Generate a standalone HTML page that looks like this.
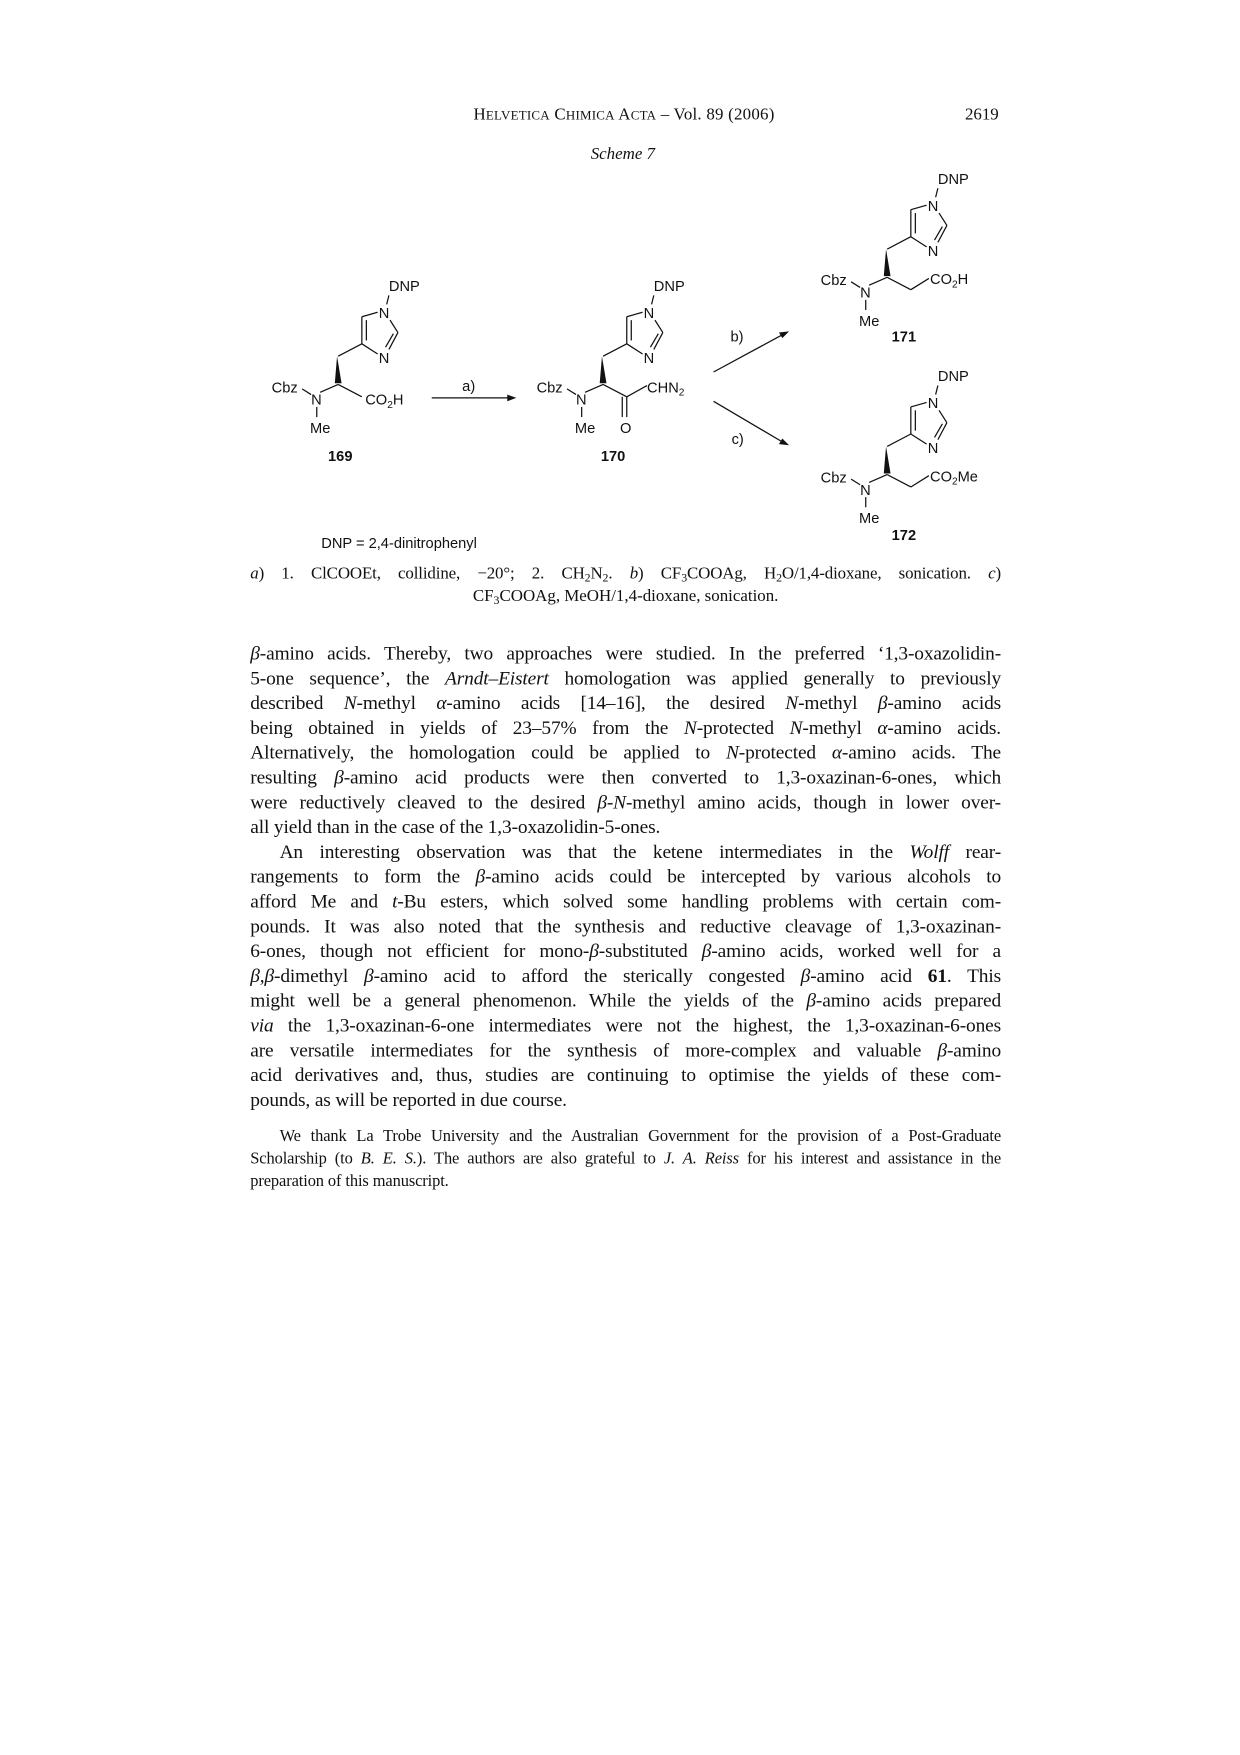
<!DOCTYPE html>
<html><head><meta charset="utf-8"><style>
html,body{margin:0;padding:0;background:#fff;}
body{width:1240px;height:1755px;overflow:hidden;position:relative;}
#pg{position:absolute;left:0;top:0;width:1100px;height:1557px;transform:scale(1.12727);transform-origin:0 0;font-family:"Liberation Serif",serif;color:#111;}
.ln{position:absolute;left:222px;width:666px;font-size:17.2px;white-space:nowrap;text-align:justify;text-align-last:justify;letter-spacing:-0.12px;line-height:20px;}
.last{text-align-last:left;}
.ack{position:absolute;left:222px;width:666px;font-size:14.6px;white-space:nowrap;text-align:justify;text-align-last:justify;line-height:18px;letter-spacing:-0.1px;}
svg text{font-family:"Liberation Sans",sans-serif;font-size:13px;fill:#111;}
sub{font-size:70%;vertical-align:-3px;line-height:0;}
</style></head><body>
<div id="pg">
<div style="position:absolute;left:420px;top:94px;font-size:15px;letter-spacing:0.2px;">H<span style="font-size:11.5px">ELVETICA</span> C<span style="font-size:11.5px">HIMICA</span> A<span style="font-size:11.5px">CTA</span> – Vol. 89 (2006)</div>
<div style="position:absolute;left:856px;top:94px;font-size:15px;">2619</div>
<div style="position:absolute;left:524px;top:129px;font-size:15px;font-style:italic;">Scheme 7</div>

<svg width="1100" height="500" style="position:absolute;left:0;top:0" stroke="#111" stroke-width="1.1" fill="none">
<defs>
<g id="core">
<polygon points="18,-38 16,-14 22,-14" fill="#111" stroke="none"/>
<line x1="19" y1="-38" x2="40" y2="-49"/>
<line x1="40" y1="-49" x2="40" y2="-73"/>
<line x1="44" y1="-70" x2="44" y2="-52"/>
<line x1="40" y1="-73" x2="54" y2="-77"/>
<line x1="65" y1="-70" x2="72" y2="-59"/>
<line x1="72" y1="-59" x2="64" y2="-44"/>
<line x1="68" y1="-58" x2="61" y2="-46"/>
<line x1="54" y1="-40" x2="40" y2="-49"/>
<line x1="62" y1="-84" x2="64" y2="-92"/>
<text x="55" y="-72" stroke="none">N</text>
<text x="55" y="-32" stroke="none">N</text>
<text x="64" y="-96" stroke="none">DNP</text>
<line x1="3" y1="-6" x2="19" y2="-13"/>
<line x1="-13" y1="-9" x2="-5" y2="-4"/>
<text x="-5" y="5" stroke="none">N</text>
<text x="-40" y="-6" stroke="none">Cbz</text>
<line x1="0" y1="7" x2="0" y2="16"/>
<text x="-6" y="30" stroke="none">Me</text>
</g>
</defs>
<g transform="translate(281,354)">
<use href="#core"/>
<line x1="19" y1="-13" x2="40" y2="-2"/>
<text x="43" y="5" stroke="none">CO<tspan font-size="9" dy="3">2</tspan><tspan dy="-3">H</tspan></text>
<text x="10" y="55" stroke="none" font-weight="bold" font-size="14">169</text>
</g>
<g>
<line x1="383" y1="353" x2="452" y2="353"/>
<polygon points="458,353 450,350 450,356" fill="#111" stroke="none"/>
<text x="410" y="347" stroke="none" font-size="14">a)</text>
</g>
<g transform="translate(516,354)">
<use href="#core"/>
<line x1="19" y1="-13" x2="40" y2="-2"/>
<line x1="40" y1="-2" x2="40" y2="16"/>
<line x1="36" y1="-2" x2="36" y2="16"/>
<text x="34" y="30" stroke="none">O</text>
<line x1="40" y1="-2" x2="58" y2="-12"/>
<text x="58" y="-6" stroke="none">CHN<tspan font-size="9" dy="3">2</tspan></text>
<text x="17" y="55" stroke="none" font-weight="bold" font-size="14">170</text>
</g>
<g>
<line x1="633" y1="330" x2="694" y2="297"/>
<polygon points="700,294 691,295 694,300" fill="#111" stroke="none"/>
<text x="648" y="303" stroke="none" font-size="14">b)</text>
</g>
<g>
<line x1="633" y1="356" x2="694" y2="392"/>
<polygon points="700,395 694,389 691,394" fill="#111" stroke="none"/>
<text x="649" y="394" stroke="none" font-size="14">c)</text>
</g>
<g transform="translate(768,259)">
<use href="#core"/>
<line x1="19" y1="-13" x2="40" y2="-2"/>
<line x1="40" y1="-2" x2="56" y2="-12"/>
<text x="57" y="-7" stroke="none">CO<tspan font-size="9" dy="3">2</tspan><tspan dy="-3">H</tspan></text>
<text x="23" y="44" stroke="none" font-weight="bold" font-size="14">171</text>
</g>
<g transform="translate(768,434)">
<use href="#core"/>
<line x1="19" y1="-13" x2="40" y2="-2"/>
<line x1="40" y1="-2" x2="56" y2="-12"/>
<text x="57" y="-7" stroke="none">CO<tspan font-size="9" dy="3">2</tspan><tspan dy="-3">Me</tspan></text>
<text x="23" y="45" stroke="none" font-weight="bold" font-size="14">172</text>
</g>
<text x="285" y="486" stroke="none" font-size="12.5">DNP = 2,4-dinitrophenyl</text>
</svg>

<div class="ln" style="top:499px;font-size:15px;"><i>a</i>) 1. ClCOOEt, collidine, −20°; 2. CH<sub>2</sub>N<sub>2</sub>. <i>b</i>) CF<sub>3</sub>COOAg, H<sub>2</sub>O/1,4-dioxane, sonication. <i>c</i>)</div>
<div style="position:absolute;left:222px;width:666px;top:519px;font-size:15px;text-align:center;line-height:20px;">CF<sub>3</sub>COOAg, MeOH/1,4-dioxane, sonication.</div>

<div>
<div class="ln" style="top:570px"><i>β</i>-amino acids. Thereby, two approaches were studied. In the preferred ‘1,3-oxazolidin-</div>
<div class="ln" style="top:592px">5-one sequence’, the <i>Arndt–Eistert</i> homologation was applied generally to previously</div>
<div class="ln" style="top:614px">described <i>N</i>-methyl <i>α</i>-amino acids [14–16], the desired <i>N</i>-methyl <i>β</i>-amino acids</div>
<div class="ln" style="top:636px">being obtained in yields of 23–57% from the <i>N</i>-protected <i>N</i>-methyl <i>α</i>-amino acids.</div>
<div class="ln" style="top:658px">Alternatively, the homologation could be applied to <i>N</i>-protected <i>α</i>-amino acids. The</div>
<div class="ln" style="top:680px">resulting <i>β</i>-amino acid products were then converted to 1,3-oxazinan-6-ones, which</div>
<div class="ln" style="top:702px">were reductively cleaved to the desired <i>β</i>-<i>N</i>-methyl amino acids, though in lower over-</div>
<div class="ln last" style="top:724px">all yield than in the case of the 1,3-oxazolidin-5-ones.</div>
<div class="ln" style="top:746px;left:248px;width:640px">An interesting observation was that the ketene intermediates in the <i>Wolff</i> rear-</div>
<div class="ln" style="top:768px">rangements to form the <i>β</i>-amino acids could be intercepted by various alcohols to</div>
<div class="ln" style="top:790px">afford Me and <i>t</i>-Bu esters, which solved some handling problems with certain com-</div>
<div class="ln" style="top:812px">pounds. It was also noted that the synthesis and reductive cleavage of 1,3-oxazinan-</div>
<div class="ln" style="top:834px">6-ones, though not efficient for mono-<i>β</i>-substituted <i>β</i>-amino acids, worked well for a</div>
<div class="ln" style="top:856px"><i>β</i>,<i>β</i>-dimethyl <i>β</i>-amino acid to afford the sterically congested <i>β</i>-amino acid <b>61</b>. This</div>
<div class="ln" style="top:878px">might well be a general phenomenon. While the yields of the <i>β</i>-amino acids prepared</div>
<div class="ln" style="top:900px"><i>via</i> the 1,3-oxazinan-6-one intermediates were not the highest, the 1,3-oxazinan-6-ones</div>
<div class="ln" style="top:922px">are versatile intermediates for the synthesis of more-complex and valuable <i>β</i>-amino</div>
<div class="ln" style="top:944px">acid derivatives and, thus, studies are continuing to optimise the yields of these com-</div>
<div class="ln last" style="top:966px">pounds, as will be reported in due course.</div>
</div>

<div>
<div class="ack" style="top:999px;left:248px;width:640px">We thank La Trobe University and the Australian Government for the provision of a Post-Graduate</div>
<div class="ack" style="top:1019px">Scholarship (to <i>B. E. S.</i>). The authors are also grateful to <i>J. A. Reiss</i> for his interest and assistance in the</div>
<div class="ack" style="top:1039px;text-align-last:left">preparation of this manuscript.</div>
</div>
</div>
</body></html>
